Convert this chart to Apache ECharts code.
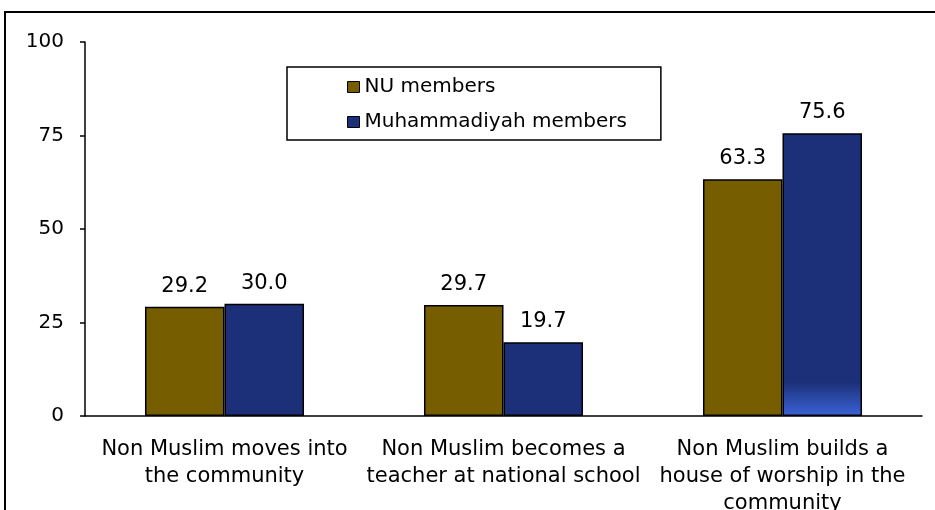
<!DOCTYPE html>
<html><head><meta charset="utf-8">
<script src="https://cdn.jsdelivr.net/npm/echarts@6/dist/echarts.min.js"></script>
<style>html,body{margin:0;padding:0;background:#fff}#c{width:935px;height:510px}</style>
</head><body><div id="c"></div>
<script>
const categories = ["Non Muslim moves into\nthe community", "Non Muslim becomes a\nteacher at national school", "Non Muslim builds a\nhouse of worship in the\ncommunity"];
const nuValues = [29.2, 29.7, 63.3];
const muhValues = [30.0, 19.7, 75.6];
const yTicks = [0, 25, 50, 75, 100];
const seriesNames = ["NU members", "Muhammadiyah members"];

const FONT = "DejaVu Sans";
const chart = echarts.init(document.getElementById('c'));
const blue = '#1B3078';
const muhData = muhValues.map((v, i) => i === 2 ? {
  value: v,
  itemStyle: { color: new echarts.graphic.LinearGradient(0, 0, 0, 1, [
    { offset: 0, color: blue }, { offset: 0.88, color: blue }, { offset: 1, color: '#3B62D8' }]) }
} : v);
chart.setOption({
  animation: false,
  textStyle: { fontFamily: FONT },
  graphic: [{ type: 'rect', shape: { x: 5, y: 12, width: 1000, height: 1000 }, style: { fill: 'none', stroke: '#000', lineWidth: 2 }, silent: true }],
  legend: {
    orient: 'vertical', left: 287, top: 67,
    padding: [10, 34, 8, 60], itemGap: 15,
    borderColor: '#000', borderWidth: 1.5,
    itemWidth: 12, itemHeight: 11,
    textStyle: { fontFamily: FONT, fontSize: 20, lineHeight: 20, color: '#000' },
    data: seriesNames.map(n => ({ name: n, icon: 'rect', itemStyle: { borderColor: '#000', borderWidth: 1 } }))
  },
  grid: { left: 85, right: 13, top: 42, bottom: 94, containLabel: false, outerBoundsMode: 'none' },
  xAxis: {
    type: 'category', data: categories,
    axisLine: { lineStyle: { color: '#000', width: 1.5 } },
    axisTick: { length: 6, lineStyle: { color: '#000', width: 1.5 } },
    axisLabel: { fontFamily: FONT, fontSize: 21, color: '#000', lineHeight: 27, margin: 20, interval: 0 }
  },
  yAxis: {
    type: 'value', min: 0, max: 100, interval: 25,
    splitLine: { show: false },
    axisLine: { show: true, lineStyle: { color: '#000', width: 1.5 } },
    axisTick: { show: true, length: 5, lineStyle: { color: '#000', width: 1.5 } },
    axisLabel: { fontFamily: FONT, fontSize: 20, color: '#000', margin: 21,
      formatter: v => yTicks.includes(v) ? String(v) : '' }
  },
  series: [
    { name: seriesNames[0], type: 'bar', data: nuValues, barGap: '0%', barCategoryGap: '43%',
      itemStyle: { color: '#765E00', borderColor: '#000', borderWidth: 1.5 },
      label: { show: true, position: 'top', distance: 10, fontFamily: FONT, fontSize: 21, color: '#000', formatter: p => p.value.toFixed(1) } },
    { name: seriesNames[1], type: 'bar', data: muhData, barGap: '0%', barCategoryGap: '43%',
      itemStyle: { color: blue, borderColor: '#000', borderWidth: 1.5 },
      label: { show: true, position: 'top', distance: 10, fontFamily: FONT, fontSize: 21, color: '#000', formatter: p => p.value.toFixed(1) } }
  ]
});
</script></body></html>
